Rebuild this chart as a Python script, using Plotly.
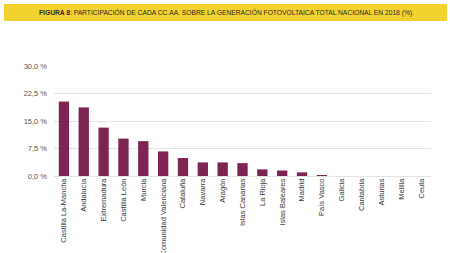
import plotly.graph_objects as go

categories = ["Castilla La-Mancha", "Andalucía", "Extremadura", "Castilla León", "Murcia",
              "Comunidad Valenciana", "Cataluña", "Navarra", "Aragón", "Islas Canarias",
              "La Rioja", "Islas Baleares", "Madrid", "País Vasco", "Galicia", "Cantabria",
              "Asturias", "Melilla", "Ceuta"]
values = [20.3, 18.7, 13.2, 10.2, 9.5, 6.7, 4.9, 3.7, 3.7, 3.5, 1.8, 1.5, 1.0, 0.2, 0.0, 0.0, 0.0, 0.0, 0.0]
tick_vals = [0, 7.5, 15, 22.5, 30]
tick_text = ["0,0 %", "7,5 %", "15,0 %", "22,5 %", "30,0 %"]
title_text = "<b>FIGURA 8</b>: PARTICIPACIÓN DE CADA CC.AA. SOBRE LA GENERACIÓN FOTOVOLTAICA TOTAL NACIONAL EN 2018 (%)."

W, H = 450, 253
ml, mr, mt, mb = 54, 19, 66, 77
pw, ph = W - ml - mr, H - mt - mb

def px_x(p):
    return (p - ml) / pw

def px_y(p):
    return (H - mb - p) / ph

fig = go.Figure()
fig.add_trace(go.Bar(x=categories, y=values, marker=dict(color="#7D2452", line=dict(width=0)),
                     width=0.52))

fig.update_layout(
    width=W, height=H,
    margin=dict(l=ml, r=mr, t=mt, b=mb),
    paper_bgcolor="white", plot_bgcolor="white",
    showlegend=False,
    font=dict(family="Liberation Sans Narrow, Arial Narrow, sans-serif", color="#444"),
    xaxis=dict(tickangle=-90, tickfont=dict(size=7.5, color="#3a3a3a"), showgrid=False,
               showline=False, ticks="", automargin=False, fixedrange=True),
    yaxis=dict(range=[0, 30], tickvals=tick_vals, ticktext=tick_text,
               tickfont=dict(size=7.5, color="#555"), showgrid=True, gridcolor="#e3e3e3",
               gridwidth=1, zeroline=True, zerolinecolor="#e3e3e3", zerolinewidth=1,
               showline=False, ticks="", ticklen=0, ticklabelstandoff=6, automargin=False),
    shapes=[dict(type="rect", xref="paper", yref="paper",
                 x0=px_x(4), x1=px_x(447), y0=px_y(21), y1=px_y(4),
                 fillcolor="#F3D22F", line=dict(width=0), layer="below")],
    annotations=[dict(text=title_text, xref="paper", yref="paper",
                      x=px_x(226), y=px_y(12.5), xanchor="center", yanchor="middle",
                      showarrow=False, font=dict(size=6.7, color="#2a2a2a",
                                                 family="Liberation Sans Narrow, Arial Narrow, sans-serif"))],
)

fig.write_html("out.html")
